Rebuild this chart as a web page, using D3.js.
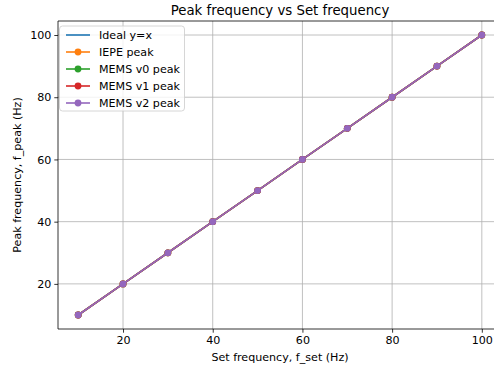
<!DOCTYPE html>
<html>
<head>
<meta charset="utf-8">
<script src="https://cdn.jsdelivr.net/npm/d3@7"></script>
<style>
  body { margin: 0; background: #fff; overflow: hidden; }
  text { font-family: "DejaVu Sans", sans-serif; fill: #000; }
</style>
</head>
<body>
<script>
// data
let setFreq = [10, 20, 30, 40, 50, 60, 70, 80, 90, 100];
let ideal = [10, 20, 30, 40, 50, 60, 70, 80, 90, 100];
let iepePeak = [10, 20, 30, 40, 50, 60, 70, 80, 90, 100];
let memsV0Peak = [10, 20, 30, 40, 50, 60, 70, 80, 90, 100];
let memsV1Peak = [10, 20, 30, 40, 50, 60, 70, 80, 90, 100];
let memsV2Peak = [10, 20, 30, 40, 50, 60, 70, 80, 90, 100];
let xTicks = [20, 40, 60, 80, 100];
let yTicks = [20, 40, 60, 80, 100];

let series = [
  { name: "Ideal y=x", values: ideal, color: "#1f77b4", marker: false },
  { name: "IEPE peak", values: iepePeak, color: "#ff7f0e", marker: true },
  { name: "MEMS v0 peak", values: memsV0Peak, color: "#2ca02c", marker: true },
  { name: "MEMS v1 peak", values: memsV1Peak, color: "#d62728", marker: true },
  { name: "MEMS v2 peak", values: memsV2Peak, color: "#9467bd", marker: true }
];

let width = 494, height = 371;
let mLeft = 58, mTop = 21, mRight = 502, mBottom = 329;
let fs = "11.1px";

let svg = d3.select("body").append("svg")
  .attr("width", width)
  .attr("height", height);

let x = d3.scaleLinear().domain([5.5, 104.5]).range([mLeft, mRight]);
let y = d3.scaleLinear().domain([5.5, 104.5]).range([mBottom, mTop]);

// grid
let grid = svg.append("g");
grid.selectAll(".gx").data(xTicks).enter().append("line")
  .attr("x1", d => x(d)).attr("x2", d => x(d))
  .attr("y1", mTop).attr("y2", mBottom)
  .attr("stroke", "#b0b0b0").attr("stroke-width", 0.8);
grid.selectAll(".gy").data(yTicks).enter().append("line")
  .attr("x1", mLeft).attr("x2", mRight)
  .attr("y1", d => y(d)).attr("y2", d => y(d))
  .attr("stroke", "#b0b0b0").attr("stroke-width", 0.8);

// series
let line = d3.line()
  .x((d, i) => x(setFreq[i]))
  .y(d => y(d));

series.forEach(s => {
  let g = svg.append("g");
  g.append("path")
    .attr("d", line(s.values))
    .attr("fill", "none")
    .attr("stroke", s.color)
    .attr("stroke-width", 1.6);
  if (s.marker) {
    g.selectAll("circle").data(s.values).enter().append("circle")
      .attr("cx", (d, i) => x(setFreq[i]))
      .attr("cy", d => y(d))
      .attr("r", 3.4)
      .attr("fill", s.color);
  }
});

// axes
let xAxis = svg.append("g")
  .attr("transform", "translate(0," + mBottom + ")")
  .call(d3.axisBottom(x).tickValues(xTicks).tickSize(3.7).tickPadding(3));
let yAxis = svg.append("g")
  .attr("transform", "translate(" + mLeft + ",0)")
  .call(d3.axisLeft(y).tickValues(yTicks).tickSize(3.7).tickPadding(3));
[xAxis, yAxis].forEach(a => {
  a.selectAll("text").style("font-size", fs).style("font-family", "DejaVu Sans");
  a.selectAll("line").attr("stroke", "#000").attr("stroke-width", 0.8);
  a.select(".domain").remove();
});

// spines
let spines = [
  [mLeft, mTop, mLeft, mBottom],
  [mLeft, mBottom, mRight, mBottom],
  [mLeft, mTop, mRight, mTop],
  [mRight, mTop, mRight, mBottom]
];
svg.selectAll(".spine").data(spines).enter().append("line")
  .attr("x1", d => d[0]).attr("y1", d => d[1])
  .attr("x2", d => d[2]).attr("y2", d => d[3])
  .attr("stroke", "#000").attr("stroke-width", 0.8);

// labels
svg.append("text")
  .attr("x", 280).attr("y", 15)
  .attr("text-anchor", "middle")
  .style("font-size", "13.3px")
  .text("Peak frequency vs Set frequency");
svg.append("text")
  .attr("x", 280).attr("y", 361)
  .attr("text-anchor", "middle")
  .style("font-size", fs)
  .text("Set frequency, f_set (Hz)");
svg.append("text")
  .attr("transform", "translate(21," + ((mTop + mBottom) / 2) + ") rotate(-90)")
  .attr("text-anchor", "middle")
  .style("font-size", fs)
  .text("Peak frequency, f_peak (Hz)");

// legend
let legend = svg.append("g");
legend.append("rect")
  .attr("x", 59.5).attr("y", 26)
  .attr("width", 125).attr("height", 85)
  .attr("rx", 3)
  .attr("fill", "#fff").attr("fill-opacity", 0.8)
  .attr("stroke", "#cccccc").attr("stroke-width", 0.8);
let items = legend.selectAll(".item").data(series).enter().append("g")
  .attr("transform", (d, i) => "translate(0," + (35 + i * 17) + ")");
items.append("line")
  .attr("x1", 66).attr("x2", 90)
  .attr("stroke", d => d.color).attr("stroke-width", 1.6);
items.filter(d => d.marker).append("circle")
  .attr("cx", 78).attr("r", 3.4)
  .attr("fill", d => d.color);
items.append("text")
  .attr("x", 99).attr("y", 4)
  .style("font-size", fs)
  .text(d => d.name);
</script>
</body>
</html>
